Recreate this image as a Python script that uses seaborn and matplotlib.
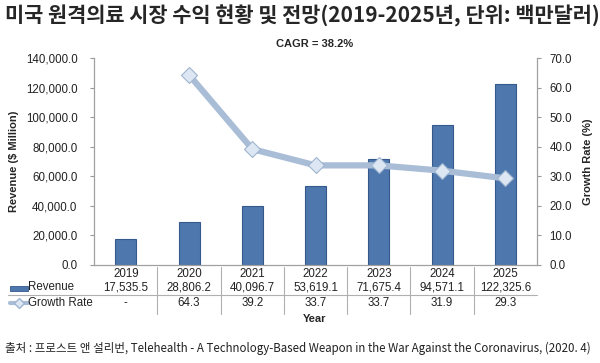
import numpy as np
import pandas as pd
import matplotlib
matplotlib.use("Agg")
import matplotlib.pyplot as plt
import seaborn as sns
from matplotlib.lines import Line2D
from matplotlib.patches import Rectangle

years = ["2019", "2020", "2021", "2022", "2023", "2024", "2025"]
revenue = [17535.5, 28806.2, 40096.7, 53619.1, 71675.4, 94571.1, 122325.6]
growth = [np.nan, 64.3, 39.2, 33.7, 33.7, 31.9, 29.3]
revenue_labels = ["17,535.5", "28,806.2", "40,096.7", "53,619.1", "71,675.4", "94,571.1", "122,325.6"]
growth_labels = ["-", "64.3", "39.2", "33.7", "33.7", "31.9", "29.3"]
left_ticks = [0, 20000, 40000, 60000, 80000, 100000, 120000, 140000]
right_ticks = [0, 10, 20, 30, 40, 50, 60, 70]

title = "미국 원격의료 시장 수익 현황 및 전망(2019-2025년, 단위: 백만달러)"
source = "출처 : 프로스트 앤 설리번, Telehealth - A Technology-Based Weapon in the War Against the Coronavirus, (2020. 4)"

sns.set_theme(style="white")
plt.rcParams['font.family'] = ['Liberation Sans', 'Noto Sans CJK KR', 'DejaVu Sans']

df = pd.DataFrame({"year": years, "revenue": revenue, "growth": growth,
                   "pos": np.arange(len(years))})

fig = plt.figure(figsize=(6.0, 3.63), dpi=100)
ax = fig.add_axes([0.157, 0.270, 0.738, 0.570])

bar_color = "#4d77ad"
sns.barplot(data=df, x="year", y="revenue", ax=ax, color=bar_color, width=0.33,
            edgecolor="#35598a", linewidth=0.8, saturation=1)
ax.set_xlim(-0.5, 6.5)
ax.set_ylim(0, 140000)
ax.set_yticks(left_ticks)
ax.set_yticklabels([f"{v:,.1f}" for v in left_ticks], fontsize=8.3, color="#222222")
ax.set_xticks(range(len(years)))
ax.set_xticklabels(years, fontsize=8.3, color="#222222")
ax.tick_params(axis="x", length=0, pad=2)
ax.tick_params(axis="y", length=3, color="#999999", width=0.8, direction="out", left=True, pad=9)
ax.set_xlabel("")
ax.set_ylabel("Revenue ($ Million)", fontsize=8, fontweight="bold", labelpad=5)
for s in ["top", "right"]:
    ax.spines[s].set_visible(False)
for s in ["left", "bottom"]:
    ax.spines[s].set_color("#a0a0a0")
    ax.spines[s].set_linewidth(0.9)

ax2 = ax.twinx()
line_color = "#a9bdd7"
sns.lineplot(data=df, x="pos", y="growth", ax=ax2, color=line_color, linewidth=4.5,
             marker="D", markersize=8, markerfacecolor="#dde7f3",
             markeredgecolor="#9fb4cf", markeredgewidth=0.8)
ax2.set_ylim(0, 70)
ax2.set_yticks(right_ticks)
ax2.set_yticklabels([f"{v:.1f}" for v in right_ticks], fontsize=8.3, color="#222222")
ax2.tick_params(axis="y", length=3, color="#999999", width=0.8, direction="out", right=True, pad=6)
ax2.set_ylabel("Growth Rate (%)", fontsize=8, fontweight="bold", labelpad=8)
ax2.set_xlabel("")
ax2.set_xlim(-0.5, 6.5)
for s in ["top", "left", "bottom"]:
    ax2.spines[s].set_visible(False)
ax2.spines["right"].set_color("#a0a0a0")
ax2.spines["right"].set_linewidth(0.9)

# data table below the axes
trans = matplotlib.transforms.blended_transform_factory(ax.transData, fig.transFigure)
y_rev = 1 - 287 / 363
y_gr = 1 - 303 / 363
for i in range(len(years)):
    ax.text(i, y_rev, revenue_labels[i], transform=trans, ha="center", va="center",
            fontsize=8.3, color="#222222")
    ax.text(i, y_gr, growth_labels[i], transform=trans, ha="center", va="center",
            fontsize=8.3, color="#222222")
for b in np.arange(0.5, 6.0, 1.0):
    ax.plot([b, b], [1 - 267 / 363, 1 - 314 / 363], transform=trans, color="#b0b0b0",
            linewidth=0.8, clip_on=False)
fig.lines.append(Line2D([8 / 600, 537 / 600], [1 - 295 / 363] * 2, transform=fig.transFigure,
                        color="#b0b0b0", linewidth=0.8))
# row labels with legend keys
fig.patches.append(Rectangle((10 / 600, 1 - 290.5 / 363), 18 / 600, 5 / 363, transform=fig.transFigure,
                             facecolor=bar_color, edgecolor="#35598a", linewidth=0.6))
fig.text(28 / 600, y_rev, "Revenue", fontsize=8.3, va="center", ha="left", color="#222222")
fig.lines.append(Line2D([10 / 600, 28 / 600], [y_gr] * 2, transform=fig.transFigure,
                        color=line_color, linewidth=3))
fig.lines.append(Line2D([19 / 600], [y_gr], transform=fig.transFigure, marker="D", markersize=5,
                        markerfacecolor="#dde7f3", markeredgecolor="#9fb4cf", linestyle="none"))
fig.text(28 / 600, y_gr, "Growth Rate", fontsize=8.3, va="center", ha="left", color="#222222")

fig.text(315 / 600, 1 - 319 / 363, "Year", fontsize=8, fontweight="bold", ha="center", va="center")
fig.text(315 / 600, 1 - 44 / 363, "CAGR = 38.2%", fontsize=8, fontweight="bold", ha="center", va="center")

fig.text(5 / 600, 1 - 16 / 363, title, fontsize=15, fontweight="bold", ha="left", va="center",
         family=["Noto Sans CJK KR", "DejaVu Sans"])
fig.text(5 / 600, 1 - 348 / 363, source, fontsize=8.3, ha="left", va="center",
         family=["Noto Sans CJK KR", "DejaVu Sans"], color="#222222")

fig.savefig("out.png", dpi=100)
